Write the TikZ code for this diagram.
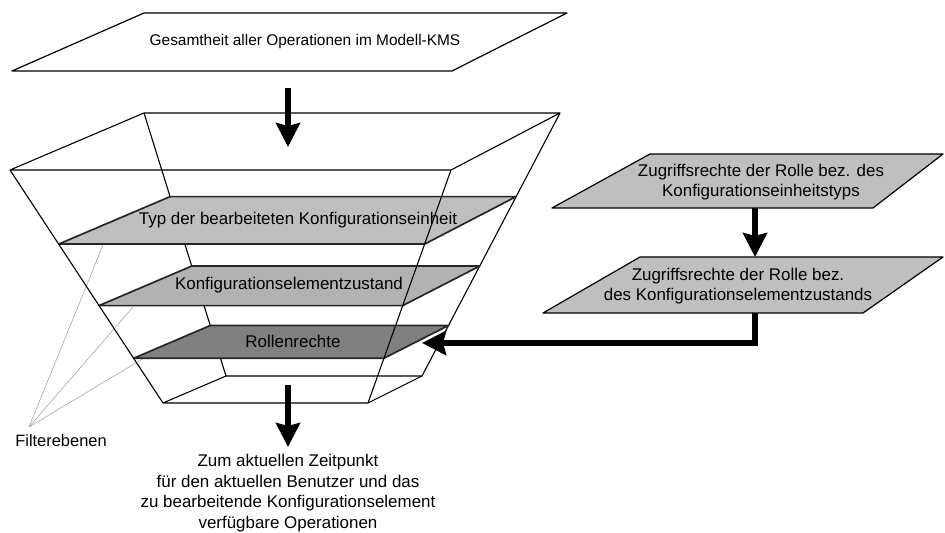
\documentclass[tikz,border=0pt]{standalone}
\usepackage{fontspec}
\setmainfont{Liberation Sans}
\usetikzlibrary{calc}
\usetikzlibrary{arrows.meta}

\begin{document}
\begin{tikzpicture}[x=1bp, y=-1bp,
	every node/.style={font=\fontsize{17}{20.5}\selectfont, align=center, inner sep=0pt},
	kante/.style={line width=1.1bp, line join=round},
	ebene/.style={draw=black!85, line width=1.7bp, line join=round},
	feld/.style={draw=black, line width=1.2bp, line join=round},
	pfeil/.style={line width=5.5bp, line join=miter, -{Stealth[length=24bp,width=24bp,inset=3bp]}},
	hinweis/.style={draw=black!40, line width=0.5bp}]

\useasboundingbox (0,0) rectangle (945,533);

% Eingabe oben
\filldraw[feld, fill=white] (12,71) -- (452,71) -- (567,13) -- (144,13) -- cycle;
\node[font=\fontsize{15.5}{19}\selectfont] (gesamt) at (305,42) {Gesamtheit aller Operationen im Modell-KMS};

% Trichter
\coordinate (tfl) at (10,170);
\coordinate (tfr) at (451,170);
\coordinate (tbr) at (560,113);
\coordinate (tbl) at (144,113);
\coordinate (bfl) at (163,403);
\coordinate (bfr) at (368,403);
\coordinate (bbr) at (422,376);
\coordinate (bbl) at (226,376);

% Hinweislinien
\coordinate (fe) at (29,427);
\draw[hinweis] (fe) -- (103,245);
\draw[hinweis] (fe) -- (133,307);
\draw[hinweis] (fe) -- (144,358);
\node[font=\fontsize{16.5}{20}\selectfont] (filter) at (61,441) {Filterebenen};

\draw[kante] (tfl) -- (tbl) -- (tbr) -- (tfr) -- cycle;
\draw[kante] (tbl) -- (bbl) -- (bbr) -- (tbr);
\draw[kante] (bfl) -- (bbl) (bfr) -- (bbr) (bfl) -- (bfr);

% Filterebenen
\foreach \t/\farbe in {0.318/black!25, 0.582/black!30, 0.808/black!50}
	\filldraw[ebene, fill=\farbe] ($(tfl)!\t!(bfl)$) -- ($(tfr)!\t!(bfr)$)
		-- ($(tbr)!\t!(bbr)$) -- ($(tbl)!\t!(bbl)$) -- cycle;

\draw[kante] (tfl) -- (bfl) (tfr) -- (bfr);

\node (typ) at (298,220) {Typ der bearbeiteten Konfigurationseinheit};
\node (zustand) at (289,285) {Konfigurationselementzustand};
\node (rollen) at (293,341) {Rollenrechte};

% Zugriffsrechte rechts
\filldraw[feld, fill=black!25] (552,208) -- (873,208) -- (943,154) -- (650,154) -- cycle;
\node (recht1) at (761,182) {Zugriffsrechte der Rolle bez. des\\Konfigurationseinheitstyps};
\filldraw[feld, fill=black!25] (543,313) -- (863,313) -- (943,257) -- (640,257) -- cycle;
\node (recht2) at (738,286) {Zugriffsrechte der Rolle bez.\\des Konfigurationselementzustands};

% Ausgabe unten
\node (ausgabe) at (288,493) {Zum aktuellen Zeitpunkt\\f\"ur den aktuellen Benutzer und das\\zu bearbeitende Konfigurationselement\\verf\"ugbare Operationen};

% Pfeile
\coordinate (oben-a) at (288,88);
\coordinate (oben-b) at (288,147);
\coordinate (unten-a) at (288,385);
\coordinate (unten-b) at (288,447);
\coordinate (r1) at (755,208);
\coordinate (r2) at (755,257);
\coordinate (r3) at (755,313);
\coordinate (rein) at (422,343);

\draw[pfeil] (oben-a) -- (oben-b);
\draw[pfeil] (unten-a) -- (unten-b);
\draw[pfeil] (r1) -- (r2);
\draw[pfeil] (r3) |- (rein);
\end{tikzpicture}
\end{document}
